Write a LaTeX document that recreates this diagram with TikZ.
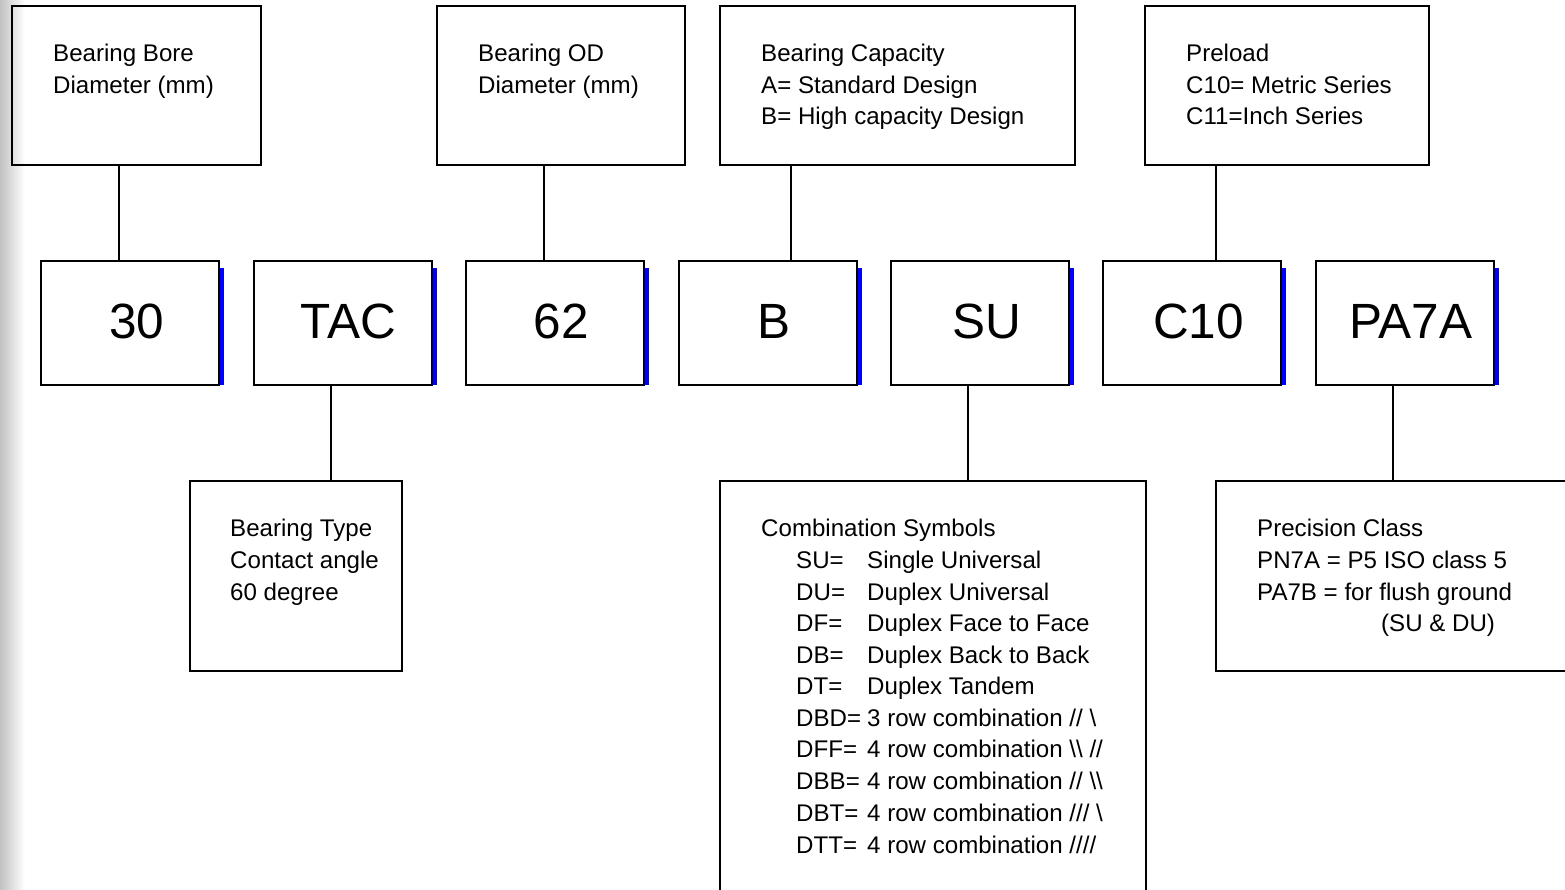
\documentclass[tikz,border=0pt]{standalone}
\usepackage{fontspec}
\setmainfont{Liberation Sans}
\begin{document}
\begin{tikzpicture}[x=1pt,y=-1pt,
  box/.style={draw=black,line width=2pt,inner sep=0pt,outer sep=0pt},
  midbox/.style={box,minimum width=178pt,minimum height=124pt},
  txt/.style={anchor=base west,inner sep=0pt,font=\fontsize{24.1}{28}\selectfont},
  big/.style={anchor=base,inner sep=0pt,font=\fontsize{49.5}{56}\selectfont},
  conn/.style={draw=black,line width=2pt},
  shadow/.style={fill=blue}]
\clip (0,0) rectangle (1565,890);
\fill[white] (0,0) rectangle (1565,890);
\shade[left color=black!24,right color=white] (0,0) rectangle (25,890);

% top boxes
\node[box,minimum width=249pt,minimum height=159pt] (top1) at (136.5,85.5) {};
\node[box,minimum width=248pt,minimum height=159pt] (top2) at (561,85.5) {};
\node[box,minimum width=355pt,minimum height=159pt] (top3) at (897.5,85.5) {};
\node[box,minimum width=284pt,minimum height=159pt] (top4) at (1287,85.5) {};

\node[txt] (t1a) at (53,61.5) {Bearing Bore};
\node[txt] (t1b) at (53,93.5) {Diameter (mm)};
\node[txt] (t2a) at (478,61.5) {Bearing OD};
\node[txt] (t2b) at (478,93.5) {Diameter (mm)};
\node[txt] (t3a) at (761,61.5) {Bearing Capacity};
\node[txt] (t3b) at (761,93.5) {A= Standard Design};
\node[txt] (t3c) at (761,125) {B= High capacity Design};
\node[txt] (t4a) at (1186,61.5) {Preload};
\node[txt] (t4b) at (1186,93.5) {C10= Metric Series};
\node[txt] (t4c) at (1186,125) {C11=Inch Series};

% middle boxes with blue shadows
\foreach \n/\cx in {n30/130,nTAC/342.5,n62/555,nB/768,nSU/980,nC10/1192,nPA/1404.5}{
  \fill[shadow] (\cx+88,268) rectangle (\cx+94,385);
  \node[midbox] (\n) at (\cx,323) {};
}
\node[big] (l30) at (137,338) {30};
\node[big] (lTAC) at (348.5,338) {TAC};
\node[big] (l62) at (561,338) {62};
\node[big] (lB) at (773.5,338) {B};
\node[big] (lSU) at (987,338) {SU};
\node[big] (lC10) at (1198.5,338) {C10};
\node[big] (lPA) at (1411,338) {PA7A};

% bottom boxes
\node[box,minimum width=212pt,minimum height=190pt] (btype) at (296,576) {};
\node[box,minimum width=426pt,minimum height=419pt] (comb) at (933,690.5) {};
\node[box,minimum width=359pt,minimum height=190pt] (prec) at (1395.5,576) {};

\node[txt] (b1a) at (230,536.5) {Bearing Type};
\node[txt] (b1b) at (230,568) {Contact angle};
\node[txt] (b1c) at (230,600) {60 degree};

\node[txt] (c0) at (761,536.5) {Combination Symbols};
\foreach \i/\yy/\k/\v in {
  1/568/{SU=}/{Single Universal},
  2/600/{DU=}/{Duplex Universal},
  3/631.5/{DF=}/{Duplex Face to Face},
  4/663.5/{DB=}/{Duplex Back to Back},
  5/694.5/{DT=}/{Duplex Tandem},
  6/726.5/{DBD=}/{3 row combination // \textbackslash},
  7/757.5/{DFF=}/{4 row combination \textbackslash\textbackslash\ //},
  8/789.5/{DBB=}/{4 row combination // \textbackslash\textbackslash},
  9/821.5/{DBT=}/{4 row combination /// \textbackslash},
  10/853.5/{DTT=}/{4 row combination ////}}{
  \node[txt] (ck\i) at (796,\yy) {\k};
  \node[txt] (cv\i) at (867,\yy) {\v};
}

\node[txt] (p1) at (1257,536.5) {Precision Class};
\node[txt] (p2) at (1257,568) {PN7A = P5 ISO class 5};
\node[txt] (p3) at (1257,600) {PA7B = for flush ground};
\node[txt] (p4) at (1381,631.5) {(SU \& DU)};

% connectors
\draw[conn] (119,0 |- top1.south) -- (119,0 |- n30.north);
\draw[conn] (544,0 |- top2.south) -- (544,0 |- n62.north);
\draw[conn] (791,0 |- top3.south) -- (791,0 |- nB.north);
\draw[conn] (1216,0 |- top4.south) -- (1216,0 |- nC10.north);
\draw[conn] (331,0 |- nTAC.south) -- (331,0 |- btype.north);
\draw[conn] (968,0 |- nSU.south) -- (968,0 |- comb.north);
\draw[conn] (1393,0 |- nPA.south) -- (1393,0 |- prec.north);
\end{tikzpicture}
\end{document}
